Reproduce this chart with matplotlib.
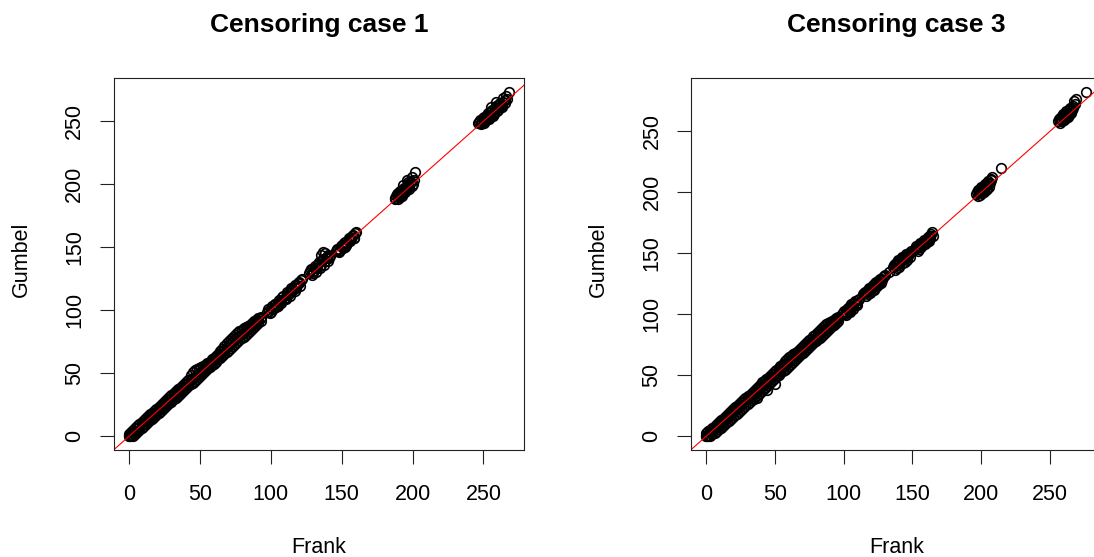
import numpy as np
import matplotlib.pyplot as plt

plt.rcParams['font.family'] = ['Liberation Sans', 'DejaVu Sans']

# ---- censoring case 1 ----
# dense lower part: for each Frank value an upper, middle and lower Gumbel value
c1_band_x = [0.1, 1.3, 2.8, 4.4, 5.9, 7.3, 8.8, 10.4, 11.9, 13.3, 14.8, 16.4, 17.8, 19.3, 20.9, 22.4,
             23.8, 25.3, 26.9, 28.3, 29.8, 31.4, 32.9, 34.3, 35.8, 37.4, 38.8, 40.3, 41.9, 43.4, 44.8, 46.3,
             47.9, 49.3, 50.8, 52.4, 53.9, 55.3, 56.8, 58.4, 59.8, 61.3, 62.9, 64.4, 65.8, 67.3, 68.9, 70.3,
             71.8, 73.4, 74.9, 76.3, 77.8, 79.4, 80.8, 82.3, 83.9, 85.4, 86.8, 88.3, 89.9, 91.3, 92.8]
c1_band_hi = [2.0, 3.5, 5.1, 6.8, 8.2, 9.8, 11.2, 12.9, 14.3, 15.8, 17.3, 18.8, 20.4, 21.8, 23.4, 25.0,
              26.5, 27.9, 29.6, 31.2, 33.0, 34.7, 36.0, 37.1, 38.4, 39.9, 41.4, 43.0, 44.9, 48.5, 50.6, 52.3,
              53.5, 54.2, 54.6, 55.6, 56.8, 57.9, 59.3, 60.9, 62.3, 63.9, 65.6, 67.3, 69.5, 71.9, 74.2, 75.9,
              77.5, 79.1, 80.6, 82.0, 83.4, 84.7, 85.6, 86.4, 87.4, 88.5, 89.7, 91.1, 92.6, 93.8, 95.0]
c1_band_mid = [0.4, 1.1, 3.0, 4.2, 6.3, 7.1, 9.0, 10.2, 12.3, 13.1, 15.2, 16.2, 18.1, 19.6, 21.0, 22.8,
               24.1, 25.6, 27.3, 28.9, 30.4, 32.0, 33.5, 34.9, 36.1, 37.8, 39.2, 40.9, 42.6, 44.3, 45.9, 47.3,
               48.6, 49.9, 51.3, 52.8, 54.2, 55.8, 57.3, 58.9, 60.4, 61.9, 63.5, 65.2, 66.9, 68.8, 70.6, 72.2,
               73.9, 75.4, 76.9, 78.4, 79.8, 81.3, 82.6, 84.0, 85.5, 86.9, 88.2, 89.5, 91.0, 92.4, 93.7]
c1_band_lo = [0.0, 0.0, 0.5, 2.1, 3.4, 5.0, 6.5, 8.0, 9.5, 11.1, 12.5, 14.0, 15.6, 17.0, 18.5, 20.1,
              21.6, 23.0, 24.6, 26.1, 27.5, 29.2, 30.7, 32.1, 33.6, 35.3, 36.7, 38.1, 39.8, 41.3, 42.6, 44.2,
              45.8, 47.2, 48.6, 50.3, 51.8, 53.2, 54.7, 56.3, 57.7, 59.2, 60.9, 62.4, 63.8, 65.3, 67.0, 68.4,
              69.9, 71.5, 73.0, 74.5, 76.0, 77.6, 79.1, 80.6, 82.2, 83.7, 85.2, 86.7, 88.3, 89.8, 91.3]
# longer times, in separate groups
c1_x = [97.5, 99.0, 100.4, 101.8, 103.1, 104.6, 106.0, 107.5, 108.9, 110.2, 111.7, 113.1, 114.6, 116.0,
        117.4, 118.8, 120.1, 121.5, 99.6, 102.7, 105.3, 108.1, 111.0, 113.9, 116.8, 119.6,
        98.3, 100.0, 101.1, 103.9, 105.9, 107.0, 109.5, 112.4, 113.5, 115.3, 117.9, 119.1, 120.8, 122.3,
        127.2, 128.6, 130.1, 131.4, 132.8, 134.0, 135.5, 136.9, 138.2, 139.6, 141.0, 129.3, 132.0, 134.9,
        137.7, 140.3, 135.6, 137.9,
        127.9, 129.8, 131.0, 133.5, 134.6, 136.2, 138.9, 140.6, 142.0, 136.8,
        145.8, 147.2, 148.5, 149.9, 151.3, 152.6, 154.0, 155.4, 156.7, 158.1, 159.4, 147.8, 150.6, 153.3,
        156.1, 158.6,
        146.4, 148.0, 149.2, 151.9, 153.0, 155.0, 157.3, 158.9, 160.2, 152.0,
        187.6, 188.9, 190.2, 191.4, 192.7, 194.0, 195.3, 196.6, 197.8, 199.1, 200.3, 189.8, 192.3, 194.9,
        197.4, 199.8, 201.8, 193.5, 196.0,
        188.2, 189.5, 190.8, 193.2, 194.6, 196.1, 198.5, 200.9, 191.0, 197.0, 199.4, 187.9,
        246.3, 247.8, 249.2, 250.6, 252.0, 253.5, 254.9, 256.3, 257.8, 259.1, 260.6, 262.0, 263.4, 264.9,
        248.6, 251.4, 254.2, 257.1, 259.8, 262.7, 265.6, 267.9, 255.4, 258.9,
        247.0, 248.4, 249.9, 251.3, 252.8, 254.2, 255.6, 257.2, 258.5, 260.0, 261.3, 262.8, 264.1, 265.2,
        250.3, 253.9, 256.8, 260.7, 263.9, 266.3]
c1_y = [98.9, 99.3, 102.1, 101.2, 105.0, 103.9, 108.2, 107.0, 111.3, 110.0, 114.4, 112.6, 117.3, 115.8,
        120.1, 119.9, 122.4, 123.7, 97.8, 104.9, 103.6, 110.4, 109.1, 116.3, 114.9, 121.8,
        100.6, 98.8, 103.3, 102.4, 107.1, 105.4, 108.9, 114.0, 111.6, 116.9, 117.4, 121.6, 119.4, 124.9,
        129.8, 132.6, 131.0, 135.5, 133.2, 138.4, 136.0, 140.8, 138.7, 142.5, 141.2, 127.9, 130.6, 133.4,
        136.1, 139.4, 143.9, 145.2,
        131.4, 129.3, 133.9, 136.8, 135.1, 139.7, 141.3, 143.6, 142.9, 146.6,
        146.9, 149.0, 148.2, 151.8, 151.0, 154.4, 153.6, 157.1, 156.2, 159.8, 161.1, 145.9, 149.3, 152.1,
        154.8, 157.7,
        148.5, 146.8, 150.6, 153.3, 151.9, 155.6, 158.6, 157.0, 162.0, 150.0,
        189.3, 192.0, 190.8, 194.6, 193.1, 197.2, 195.4, 199.9, 197.6, 202.1, 200.2, 188.2, 191.0, 193.8,
        196.4, 198.7, 209.5, 199.6, 203.3,
        190.7, 193.2, 192.5, 196.0, 195.9, 198.4, 200.8, 203.5, 189.6, 202.1, 205.6, 187.9,
        248.4, 251.0, 250.2, 253.7, 252.6, 256.4, 255.1, 259.2, 257.7, 261.8, 260.5, 264.3, 262.9, 266.6,
        247.5, 250.0, 252.9, 255.7, 258.3, 261.0, 269.8, 273.4, 261.5, 264.9,
        249.8, 249.0, 252.4, 251.7, 255.0, 254.0, 257.8, 256.4, 260.5, 259.1, 263.0, 261.7, 265.4, 264.2,
        248.8, 251.4, 254.3, 263.9, 268.1, 267.8]

# ---- censoring case 3 ----
c3_band_x = [0.2, 1.6, 3.1, 4.5, 6.1, 7.6, 9.0, 10.5, 12.1, 13.5, 15.0, 16.6, 18.0, 19.5, 21.1, 22.5,
             24.0, 25.6, 27.1, 28.5, 30.1, 31.6, 33.0, 34.5, 36.1, 37.6, 39.0, 40.6, 42.1, 43.5, 45.0, 46.6,
             48.1, 49.5, 51.1, 52.6, 54.0, 55.5, 57.1, 58.6, 60.0, 61.5, 63.1, 64.6, 66.0, 67.6, 69.1, 70.5,
             72.0, 73.6, 75.1, 76.5, 78.0, 79.6, 81.1, 82.5, 84.1, 85.6, 87.0, 88.5, 90.1, 91.6, 93.0, 94.5,
             96.1]
c3_band_hi = [2.4, 3.9, 5.4, 6.9, 8.5, 9.9, 11.4, 12.9, 14.5, 15.9, 17.4, 19.0, 20.5, 22.0, 23.6, 25.0,
              26.6, 28.1, 29.6, 31.2, 32.8, 34.2, 35.7, 37.3, 38.9, 40.6, 42.3, 44.2, 45.6, 46.8, 48.0, 49.4,
              50.9, 52.4, 54.0, 55.7, 57.6, 59.6, 61.7, 63.4, 64.8, 66.0, 67.1, 68.2, 69.3, 70.6, 72.0, 73.6,
              75.3, 77.0, 78.6, 80.1, 81.8, 83.7, 85.6, 87.3, 89.0, 90.4, 91.6, 92.7, 93.6, 94.5, 95.4, 96.6,
              97.9]
c3_band_mid = [0.5, 1.4, 3.4, 4.3, 6.4, 7.4, 9.3, 10.2, 12.4, 13.3, 15.4, 16.3, 18.3, 19.8, 21.3, 22.9,
               24.2, 25.9, 27.4, 28.9, 30.3, 32.1, 33.3, 34.9, 36.6, 38.0, 39.6, 41.3, 42.8, 44.0, 45.4, 47.0,
               48.5, 50.0, 51.6, 53.2, 54.8, 56.4, 58.3, 59.9, 61.3, 62.6, 64.0, 65.4, 66.8, 68.2, 69.7, 71.2,
               72.8, 74.4, 75.9, 77.4, 78.9, 80.6, 82.2, 83.9, 85.5, 87.0, 88.3, 89.7, 91.2, 92.7, 94.1, 95.5,
               97.0]
c3_band_lo = [0.0, 0.0, 0.2, 1.6, 2.9, 4.3, 5.6, 7.0, 8.4, 9.8, 11.3, 12.7, 14.2, 15.6, 17.2, 18.6,
              20.1, 21.7, 23.2, 24.6, 26.3, 27.9, 29.3, 30.9, 32.6, 34.1, 35.6, 37.3, 38.9, 40.3, 41.9, 43.5,
              45.1, 46.6, 48.4, 50.0, 51.5, 53.1, 54.7, 56.3, 57.8, 59.4, 61.0, 62.5, 64.0, 65.6, 67.1, 68.6,
              70.1, 71.7, 73.2, 74.7, 76.2, 77.8, 79.3, 80.8, 82.4, 83.9, 85.4, 86.9, 88.5, 90.0, 91.5, 93.0,
              94.6]
c3_x = [36.9, 44.2, 49.8,
        99.6, 100.9, 102.3, 103.6, 104.9, 106.3, 107.6, 108.9, 110.2, 101.8, 104.4, 107.1, 109.6,
        100.2, 101.4, 103.0, 104.2, 105.6, 106.9, 108.3, 109.4, 110.8, 99.0, 102.9, 105.8,
        114.3, 115.7, 117.0, 118.4, 119.7, 121.1, 122.4, 123.8, 125.1, 126.5, 127.8, 129.2, 116.5, 119.1,
        121.8, 124.5, 127.1, 132.6,
        115.0, 116.3, 117.7, 119.0, 120.4, 121.7, 123.1, 124.4, 125.8, 127.2, 128.5, 130.0, 118.0, 123.0,
        126.0,
        135.8, 137.1, 138.5, 139.8, 141.2, 142.5, 143.9, 145.2, 146.6, 147.9, 137.6, 140.3, 143.0, 145.7,
        148.3,
        136.4, 137.8, 139.1, 140.5, 141.9, 143.2, 144.6, 145.9, 147.3, 148.9, 139.0, 144.5,
        151.6, 152.9, 154.3, 155.6, 157.0, 158.3, 159.7, 161.0, 162.4, 163.7, 153.8, 156.5, 159.2, 161.8,
        164.4,
        152.3, 153.6, 155.0, 156.3, 157.7, 159.0, 160.4, 161.7, 163.0, 155.1, 160.6, 164.8,
        196.3, 197.5, 198.8, 200.0, 201.3, 202.5, 203.8, 205.0, 206.3, 198.0, 200.6, 203.2, 205.7, 207.4,
        214.5,
        196.9, 198.1, 199.4, 200.7, 201.9, 203.1, 204.4, 205.6, 206.9, 199.3, 201.9, 204.5, 207.9,
        255.8, 257.0, 258.3, 259.5, 260.8, 262.0, 263.3, 264.5, 265.8, 257.6, 260.2, 262.8, 265.3, 267.6,
        268.9, 276.3,
        256.4, 257.7, 258.9, 260.1, 261.4, 262.6, 263.9, 265.1, 266.4, 259.0, 261.5, 264.1, 266.6, 268.3]
c3_y = [31.4, 37.6, 43.1,
        101.2, 100.4, 104.1, 103.0, 106.8, 105.6, 109.4, 108.1, 111.6, 99.2, 102.0, 104.7, 107.3,
        102.6, 101.9, 105.4, 104.5, 108.0, 107.0, 110.5, 109.6, 112.8, 100.0, 103.2, 106.2,
        116.2, 118.6, 117.9, 121.3, 120.4, 124.0, 123.1, 126.6, 125.7, 129.2, 128.3, 131.0, 114.6, 117.4,
        120.0, 122.8, 125.4, 134.8,
        117.5, 117.9, 120.1, 120.7, 122.6, 123.4, 125.3, 126.1, 128.0, 128.7, 130.5, 131.9, 116.3, 121.6,
        124.4,
        138.9, 141.6, 140.3, 144.2, 142.9, 146.8, 145.4, 149.1, 147.8, 150.6, 136.4, 139.0, 141.7, 144.3,
        146.9,
        140.2, 140.9, 142.8, 143.6, 145.5, 146.1, 147.9, 148.3, 150.1, 152.1, 137.7, 143.0,
        153.4, 155.9, 154.8, 158.5, 157.3, 161.0, 159.8, 163.4, 162.2, 165.6, 152.1, 154.9, 157.6, 160.3,
        167.4,
        154.7, 155.1, 156.6, 157.2, 159.1, 159.7, 161.6, 162.4, 164.4, 153.5, 158.9, 164.2,
        198.4, 201.6, 200.3, 204.2, 202.8, 206.9, 205.2, 209.4, 207.6, 196.9, 199.2, 201.8, 204.1, 210.8,
        219.6,
        200.0, 200.8, 202.5, 203.1, 205.0, 205.5, 207.5, 207.9, 209.8, 198.0, 200.5, 203.0, 212.4,
        258.6, 261.3, 260.0, 263.9, 262.5, 266.6, 265.0, 269.2, 267.7, 256.9, 259.5, 262.0, 264.6, 274.8,
        276.2, 282.4,
        260.0, 259.8, 262.2, 262.0, 264.6, 264.1, 267.1, 266.4, 269.4, 258.1, 260.7, 263.3, 271.0, 272.4]

ticks = [0, 50, 100, 150, 200, 250]

fig = plt.figure(figsize=(10.94, 5.57), dpi=100)


def padded(v):
    # same 4% widening that R uses for its default axis ranges
    lo, hi = min(v), max(v)
    d = 0.04 * (hi - lo)
    return lo - d, hi + d


def panel(rect, title, bx, bhi, bmid, blo, gx, gy):
    ax = fig.add_axes(rect)
    xs = np.concatenate([bx, bx, bx, gx])
    ys = np.concatenate([bhi, bmid, blo, gy])
    ax.plot(xs, ys, 'o', mfc='none', mec='black', ms=6.9, mew=1.2, linestyle='none')
    ax.axline((0, 0), slope=1, color='red', lw=0.8)
    ax.set_xlim(padded(xs))
    ax.set_ylim(padded(ys))
    ax.set_xticks(ticks)
    ax.set_yticks(ticks)
    ax.tick_params(length=10.3, width=0.8, labelsize=15.5, color='#222222')
    ax.tick_params(axis='x', pad=14)
    ax.tick_params(axis='y', pad=10.5)
    plt.setp(ax.get_yticklabels(), rotation=90, va='center')
    for s in ax.spines.values():
        s.set_linewidth(0.8)
        s.set_color('#222222')
    ax.text(0.5, 1.1237, title, transform=ax.transAxes, ha='center', va='baseline',
            fontsize=19, fontweight='bold')
    ax.text(0.5, -0.277, 'Frank', transform=ax.transAxes, ha='center', va='baseline',
            fontsize=15.5)
    ax.text(-0.213, 0.513, 'Gumbel', transform=ax.transAxes, rotation=90, rotation_mode='anchor',
            ha='center', va='baseline', fontsize=15.5)
    return ax


panel([114 / 1094, 107 / 557, 410 / 1094, 372 / 557], 'Censoring case 1',
      c1_band_x, c1_band_hi, c1_band_mid, c1_band_lo, c1_x, c1_y)
panel([691.3 / 1094, 107 / 557, 410 / 1094, 372 / 557], 'Censoring case 3',
      c3_band_x, c3_band_hi, c3_band_mid, c3_band_lo, c3_x, c3_y)

fig.savefig('out.png', dpi=100)
